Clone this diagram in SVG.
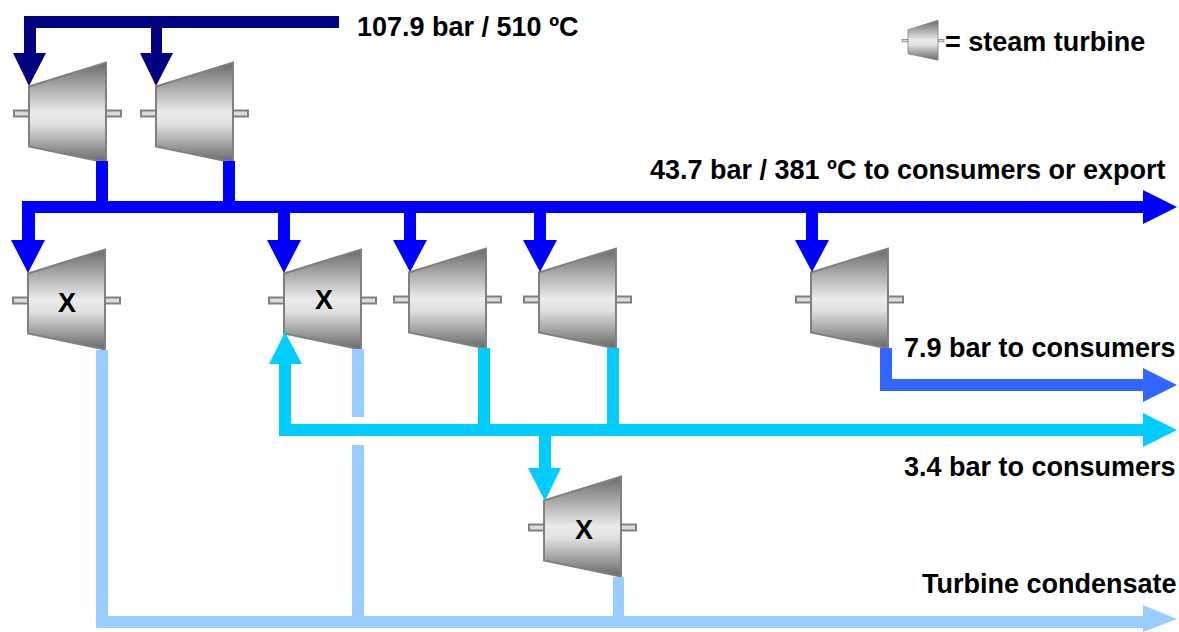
<svg xmlns="http://www.w3.org/2000/svg" width="1179" height="632" viewBox="0 0 1179 632">
<style>
text{font-family:"Liberation Sans",Arial,sans-serif;font-weight:700;fill:#000;font-size:27px}
.body{fill:url(#steel);stroke:#808080;stroke-width:2}
.shaft{fill:#dcdcdc;stroke:#808080;stroke-width:2}
.navy{fill:#000080}.blue{fill:#0000ff}.mid{fill:#3366ff}.cyan{fill:#00ccff}.pale{fill:#99ccff}
</style>
<defs>
<linearGradient id="steel" x1="0" y1="0" x2="0" y2="1">
<stop offset="0" stop-color="#6a6a6a"/><stop offset=".5" stop-color="#ebebeb"/><stop offset=".62" stop-color="#e0e0e0"/><stop offset="1" stop-color="#686868"/>
</linearGradient>
<g id="turbine">
<rect class="shaft" x="-15" y="48.500" width="15" height="6"/>
<rect class="shaft" x="77" y="48.500" width="15" height="6"/>
<polygon class="body" points="0,24.500 77,0.500 77,100.500 0,84.500"/>
</g>
</defs>
<g id="turbine-1"><use href="#turbine" x="29" y="62"/></g>
<g id="turbine-2"><use href="#turbine" x="156" y="62"/></g>
<g id="turbine-3"><use href="#turbine" x="28" y="249"/><text x="67" y="312" text-anchor="middle">X</text></g>
<g id="turbine-4"><use href="#turbine" x="284" y="249"/><text x="324" y="309" text-anchor="middle">X</text></g>
<g id="turbine-5"><use href="#turbine" x="409" y="248"/></g>
<g id="turbine-6"><use href="#turbine" x="539" y="248"/></g>
<g id="turbine-7"><use href="#turbine" x="811" y="248"/></g>
<g id="turbine-8"><use href="#turbine" x="544" y="476"/><text x="584" y="539" text-anchor="middle">X</text></g>
<g id="legend-turbine"><use href="#turbine" transform="translate(908 20) scale(.39 .4)"/></g>
<g id="connectors">
<g class="navy">
<path d="M339 16H24V53H13L29 86L46 53H36V28H151V53H140L156 86L173 53H162V28H339Z"/>
</g>
<g class="blue">
<rect x="96" y="161" width="12" height="41"/>
<rect x="223" y="161" width="12" height="41"/>
<path d="M22 201H1143V190L1177 207L1143 224V213H35V240H45L28 273L11 240H22Z"/>
<path d="M278 212H290V240H301L284 273L267 240H278Z"/>
<path d="M404 212H416V240H427L410 272L393 240H404Z"/>
<path d="M534 212H546V240H557L540 272L523 240H534Z"/>
<path d="M806 212H818V240H829L812 272L795 240H806Z"/>
</g>
<path class="mid" d="M880 348H892V379H1143V368L1177 385L1143 402V391H880Z"/>
<g class="pale">
<rect x="352" y="349" width="12" height="68"/>
<rect x="352" y="445" width="12" height="175"/>
<rect x="613" y="577" width="11" height="43"/>
<path d="M96 350H108V616H1143V605L1177 619L1143 632V628H96Z"/>
</g>
<g class="cyan">
<rect x="478" y="348" width="12" height="78"/>
<rect x="607" y="348" width="12" height="78"/>
<path d="M279 436V364H269L285 332L302 364H291V424H1143V413L1177 430L1143 447V436H551V468H561L545 501L528 468H539V436Z"/>
</g>
</g>
<g id="labels">
<text x="357" y="36">107.9 bar / 510 ºC</text>
<text x="945" y="51">= steam turbine</text>
<text x="650" y="179">43.7 bar / 381 ºC to consumers or export</text>
<text x="904" y="357">7.9 bar to consumers</text>
<text x="904" y="476">3.4 bar to consumers</text>
<text x="922" y="593">Turbine condensate</text>
</g>
</svg>
